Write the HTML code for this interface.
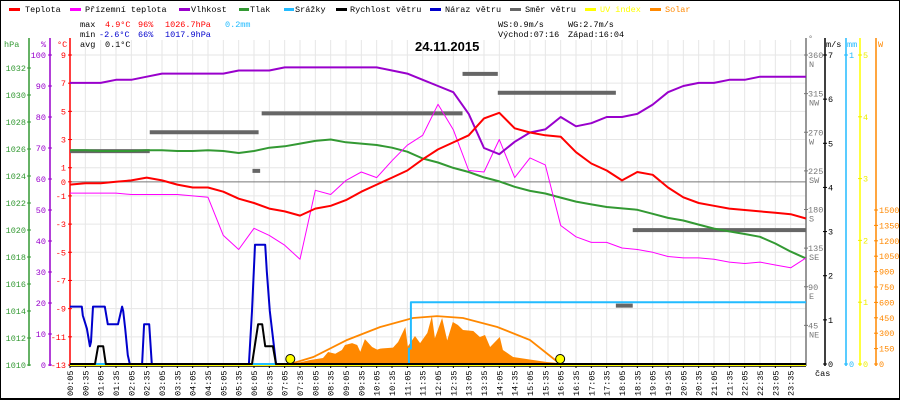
<!DOCTYPE html>
<html><head><meta charset="utf-8"><style>
html,body{margin:0;padding:0;background:#fff}
svg{display:block}
text{font-family:"Liberation Mono","DejaVu Sans Mono",monospace;font-size:8.5px}
</style></head><body>
<svg id="chart" width="900" height="400" viewBox="0 0 900 400" xmlns="http://www.w3.org/2000/svg">
<rect x="0.5" y="0.5" width="899" height="399" fill="#fff" stroke="#000"/>
<g id="grid"></g>
<g id="legend">
<rect x="9" y="8" width="11" height="3" fill="#f00"/><text x="25" y="12">Teplota</text>
<rect x="70" y="8" width="11" height="3" fill="#f0f"/><text x="85" y="12">Přízemní teplota</text>
<rect x="179" y="8" width="11" height="3" fill="#90c"/><text x="191" y="12">Vlhkost</text>
<rect x="239" y="8" width="10" height="3" fill="#393"/><text x="250" y="12">Tlak</text>
<rect x="284" y="8" width="10" height="3" fill="#2bf"/><text x="295" y="12">Srážky</text>
<rect x="336" y="8" width="11" height="3" fill="#000"/><text x="350" y="12">Rychlost větru</text>
<rect x="430" y="8" width="11" height="3" fill="#00c"/><text x="445" y="12">Náraz větru</text>
<rect x="510" y="8" width="11" height="3" fill="#666"/><text x="525" y="12">Směr větru</text>
<rect x="585" y="8" width="11" height="3" fill="#ff0"/><text x="600" y="12" fill="#ff0">UV index</text>
<rect x="650" y="8" width="11" height="3" fill="#f80"/><text x="665" y="12" fill="#f80">Solar</text>
</g>
<g id="stats">
<text x="80" y="27">max</text><text x="105" y="27" fill="#f00">4.9°C</text><text x="138" y="27" fill="#f00">96%</text><text x="165" y="27" fill="#f00">1026.7hPa</text><text x="225" y="27" fill="#2bf">0.2mm</text>
<text x="80" y="37">min</text><text x="99" y="37" fill="#00c">-2.6°C</text><text x="138" y="37" fill="#00c">66%</text><text x="165" y="37" fill="#00c">1017.9hPa</text>
<text x="80" y="47">avg</text><text x="105" y="47">0.1°C</text>
<text x="498" y="27">WS:0.9m/s</text><text x="568" y="27">WG:2.7m/s</text>
<text x="498" y="37">Východ:07:16</text><text x="568" y="37">Západ:16:04</text>
<text x="415" y="51" style="font-family:'Liberation Sans',sans-serif;font-size:13px;font-weight:bold">24.11.2015</text>
</g>
<g id="axes"></g>
<g id="series"></g>
</svg>
<script>
const timeLabels=["00:05","00:35","01:05","01:35","02:05","02:35","03:05","03:35","04:05","04:35","05:05","05:35","06:05","06:35","07:05","07:35","08:05","08:35","09:05","09:35","10:05","10:35","11:05","11:35","12:05","12:35","13:05","13:35","14:05","14:35","15:05","15:35","16:05","16:35","17:05","17:35","18:05","18:35","19:05","19:35","20:05","20:35","21:05","21:35","22:05","22:35","23:05","23:35"];
const temp=[-0.2,-0.1,-0.1,0.0,0.1,0.3,0.1,-0.2,-0.4,-0.4,-0.7,-1.2,-1.5,-1.9,-2.1,-2.4,-1.9,-1.7,-1.3,-0.7,-0.2,0.3,0.8,1.6,2.3,2.8,3.3,4.5,4.9,3.8,3.5,3.3,3.2,2.1,1.3,0.8,0.1,0.7,0.5,-0.4,-1.1,-1.5,-1.7,-1.9,-2.0,-2.1,-2.2,-2.3,-2.6];
const apparent=[-0.8,-0.8,-0.8,-0.8,-0.9,-0.9,-0.9,-0.9,-1.0,-1.1,-3.8,-4.8,-3.3,-3.8,-4.5,-5.5,-0.6,-0.9,0.1,0.7,0.3,1.5,2.6,3.3,5.5,3.7,0.8,0.7,3.0,0.3,1.7,1.2,-3.1,-3.9,-4.3,-4.3,-4.7,-4.8,-5.0,-5.3,-5.4,-5.4,-5.5,-5.7,-5.8,-5.7,-5.9,-6.1,-5.4];
const humidity=[91,91,91,92,92,93,94,94,94,94,94,95,95,95,96,96,96,96,96,96,96,95,94,92,90,88,81,70,68,72,75,76,80,77,78,80,80,81,84,88,90,91,91,92,92,93,93,93,93];
const pressure=[1025.9,1025.9,1025.85,1025.85,1025.85,1025.9,1025.9,1025.85,1025.85,1025.9,1025.85,1025.7,1025.85,1026.1,1026.2,1026.4,1026.6,1026.7,1026.5,1026.4,1026.3,1026.1,1025.8,1025.3,1025.0,1024.6,1024.3,1023.9,1023.6,1023.2,1022.9,1022.7,1022.4,1022.1,1021.9,1021.7,1021.6,1021.5,1021.2,1020.9,1020.7,1020.4,1020.1,1019.9,1019.7,1019.5,1019.0,1018.4,1017.9];
const dirStart=[0,5.2,11.9,12.5,25.6,27.9,35.6,36.7];
const dirEnd=[5.2,12.3,12.4,25.6,27.9,35.6,36.7,48];
const dirDeg=[248,270,225,292,338,316,68,156];
const gustT=[5,28,30,38,44,46,50,73,79,99,107,109,113,118,122,146,150,160,165,355,361,367,387,390,396,406,408,1445];
const gustV=[1.3,1.3,1.1,0.8,0.4,0.5,1.3,1.3,0.9,0.9,1.3,1.2,0.8,0.2,0,0,0.9,0.9,0,0,1.2,2.7,2.7,2.1,1.2,0.2,0,0];
const speedT=[5,54,60,70,75,361,373,381,387,402,408,1445];
const speedV=[0,0,0.4,0.4,0,0,0.9,0.9,0.4,0.4,0,0];
const rainT=[5,668,668,672,672,1445];
const rainV=[0,0,0.05,0.05,0.2,0.2];
const solarT=[436,441,475,500,510,524,537,543,557,567,573,582,596,606,612,637,647,661,666,680,690,704,713,719,733,743,754,764,774,794,807,817,827,846,852,872,911,938,983];
const solarV=[0,0,39,58,117,100,136,185,204,185,120,243,166,140,150,160,214,360,170,273,204,302,467,250,448,230,409,380,331,321,263,282,166,263,136,68,39,19,0];
const clearT=[436,481,547,612,676,723,774,841,905,964];
const clearV=[0,68,234,360,448,467,448,360,234,0];
const sunT=[436,964];
const hpaTicks=[1010,1012,1014,1016,1018,1020,1022,1024,1026,1028,1030,1032];
const pctTicks=[0,10,20,30,40,50,60,70,80,90,100];
const degTicks=[9,7,5,3,1,0,-1,-3,-5,-7,-9,-11,-13];
const dirTicks=[45,90,135,180,225,270,315,360];
const dirNames=["NE","E","SE","S","SW","W","NW","N"];
const msTicks=[0,1,2,3,4,5,6,7];
const mmTicks=[0,1];
const uvTicks=[0,1,2,3,4,5];
const wTicks=[0,150,300,450,600,750,900,1050,1200,1350,1500];

const X0=70,X1=806,YT=55,YB=365;
const xIdx=i=>X0+i*(X1-X0)/48;
const xMin=m=>X0+(m-5)*(X1-X0)/1440;
const yT=c=>YT+(9-c)*(YB-YT)/22;
const yH=h=>YB-h*3.1;
const yP=p=>YB-(p-1010)*13.5;
const yDeg=d=>364-d*309/360;
const yWS=v=>364-v*309/7;
const yMM=v=>364-v*309;
const yUV=v=>364-v*309/5;
const yW=w=>364-w*154/1500;

const NS="http://www.w3.org/2000/svg";
function mk(tag,attrs,parent,txt){const e=document.createElementNS(NS,tag);for(const k in attrs)e.setAttribute(k,attrs[k]);if(txt!==undefined)e.textContent=txt;parent.appendChild(e);return e;}
const grid=document.getElementById('grid'),axes=document.getElementById('axes'),series=document.getElementById('series');

for(let i=0;i<=48;i++){const l=mk('line',{x1:xIdx(i),x2:xIdx(i),y1:40,y2:YB,stroke:'#e6e6e6'},grid);

}
degTicks.filter(c=>c!==0).forEach(c=>{const l=mk('line',{x1:X0,x2:X1,y1:yT(c),y2:yT(c),stroke:'#e6e6e6'},grid);

});
const zl=mk('line',{x1:X0,x2:X1,y1:yT(0),y2:yT(0),stroke:'#777'},grid);



function vaxis(x,color,name){const l=mk('line',{x1:x,x2:x,y1:38,y2:YB+1,stroke:color,'stroke-width':1.5},axes);

}
vaxis(29,'#393','hpa-axis');vaxis(50,'#90c','humidity-axis');vaxis(70,'#f00','temp-axis');
vaxis(806,'#777','direction-axis');vaxis(825,'#000','wind-axis');vaxis(846,'#2bf','rain-axis');vaxis(860,'#ff0','uv-axis');vaxis(876,'#f80','solar-axis');
function lab(x,y,t,color,anchor,name){const e=mk('text',{x:x,y:y,fill:color,'text-anchor':anchor||'start'},axes,t);

return e;}
function tick(x1,x2,y,color){const l=mk('line',{x1:x1,x2:x2,y1:y,y2:y,stroke:color},axes);

}
lab(4,47,'hPa','#393','start','hpa-axis-title');lab(41,47,'%','#90c','start','humidity-axis-title');lab(57,47,'°C','#f00','start','temp-axis-title');
lab(808,41,'°','#777','start','direction-axis-title');lab(826,47,'m/s','#000','start','wind-axis-title');lab(847,47,'mm','#2bf','start','rain-axis-title');lab(878,47,'W','#f80','start','solar-axis-title');
lab(815,376,'čas','#000','start','time-axis-title');
hpaTicks.forEach(v=>{tick(27,31,yP(v),'#393');lab(26,yP(v)+3,String(v),'#393','end','hpa-tick-label');});
pctTicks.forEach(v=>{tick(48,52,yH(v),'#90c');lab(46,yH(v)+3,String(v),'#90c','end','humidity-tick-label');});
degTicks.forEach(v=>{tick(68,72,yT(v),'#f00');lab(66,yT(v)+3,String(v),'#f00','end','temp-tick-label');});
dirTicks.forEach((v,i)=>{tick(804,808,yDeg(v),'#777');lab(808,yDeg(v)+3,String(v),'#777','start','direction-tick-label');lab(809,yDeg(v)+12,dirNames[i],'#777','start','direction-name-label');});
msTicks.forEach(v=>{tick(823,827,yWS(v),'#000');lab(828,yWS(v)+3,String(v),'#000','start','wind-tick-label');});
mmTicks.forEach(v=>{tick(844,848,yMM(v),'#2bf');lab(849,yMM(v)+3,String(v),'#2bf','start','rain-tick-label');});
uvTicks.forEach(v=>{tick(858,862,yUV(v),'#ee0');lab(863,yUV(v)+3,String(v),'#ee0','start','uv-tick-label');});
wTicks.forEach(v=>{tick(874,878,yW(v),'#f80');lab(879,yW(v)+3,String(v),'#f80','start','solar-tick-label');});
timeLabels.forEach((t,i)=>{const x=xIdx(i);
const e=mk('text',{x:0,y:0,transform:`translate(${x+3},396) rotate(-90)`,fill:'#000'},axes,t);


const tk=mk('line',{x1:x,x2:x,y1:YB,y2:YB+3,stroke:'#000'},axes);

});
const bl=mk('line',{x1:X0,x2:X1,y1:YB+1,y2:YB+1,stroke:'#000','stroke-width':1.5},axes);


const bb=mk('line',{x1:0,x2:900,y1:398.5,y2:398.5,stroke:'#000'},axes);



function pts(xs,ys){return xs.map((x,i)=>x.toFixed(1)+','+ys[i].toFixed(1)).join(' ');}
const idx=temp.map((_,i)=>xIdx(i));
const sx=solarT.map(xMin),sy=solarV.map(yW);
const sa=mk('polygon',{points:pts([sx[0],...sx,sx[sx.length-1]],[YB,...sy,YB]),fill:'#f80'},series);


const cs=mk('polyline',{points:pts(clearT.map(xMin),clearV.map(yW)),fill:'none',stroke:'#f80','stroke-width':1.8},series);


const uv=mk('line',{x1:X0,x2:X1,y1:YB,y2:YB,stroke:'#ff0','stroke-width':2},series);


dirDeg.forEach((d,i)=>{const r=mk('rect',{x:xIdx(dirStart[i]),y:yDeg(d)-2,width:xIdx(dirEnd[i])-xIdx(dirStart[i]),height:4,fill:'#666'},series);

});
function line(xs,ys,color,w,name){const p=mk('polyline',{points:pts(xs,ys),fill:'none',stroke:color,'stroke-width':w,'stroke-linejoin':'round'},series);

}
line(rainT.map(xMin),rainV.map(yMM),'#2bf',2,'rain-line');
line(gustT.map(xMin),gustV.map(yWS),'#00c',2,'wind-gust-line');
line(speedT.map(xMin),speedV.map(yWS),'#000',2,'wind-speed-line');
line(idx,pressure.map(yP),'#393',2,'pressure-line');
line(idx,apparent.map(yT),'#f0f',1,'apparent-temp-line');
line(idx,humidity.map(yH),'#90c',2,'humidity-line');
line(idx,temp.map(yT),'#f00',2,'temperature-line');
sunT.forEach(t=>{const c=mk('circle',{cx:xMin(t),cy:359,r:4.5,fill:'#ff0',stroke:'#000','stroke-width':1},series);

});
</script>
</body></html>
